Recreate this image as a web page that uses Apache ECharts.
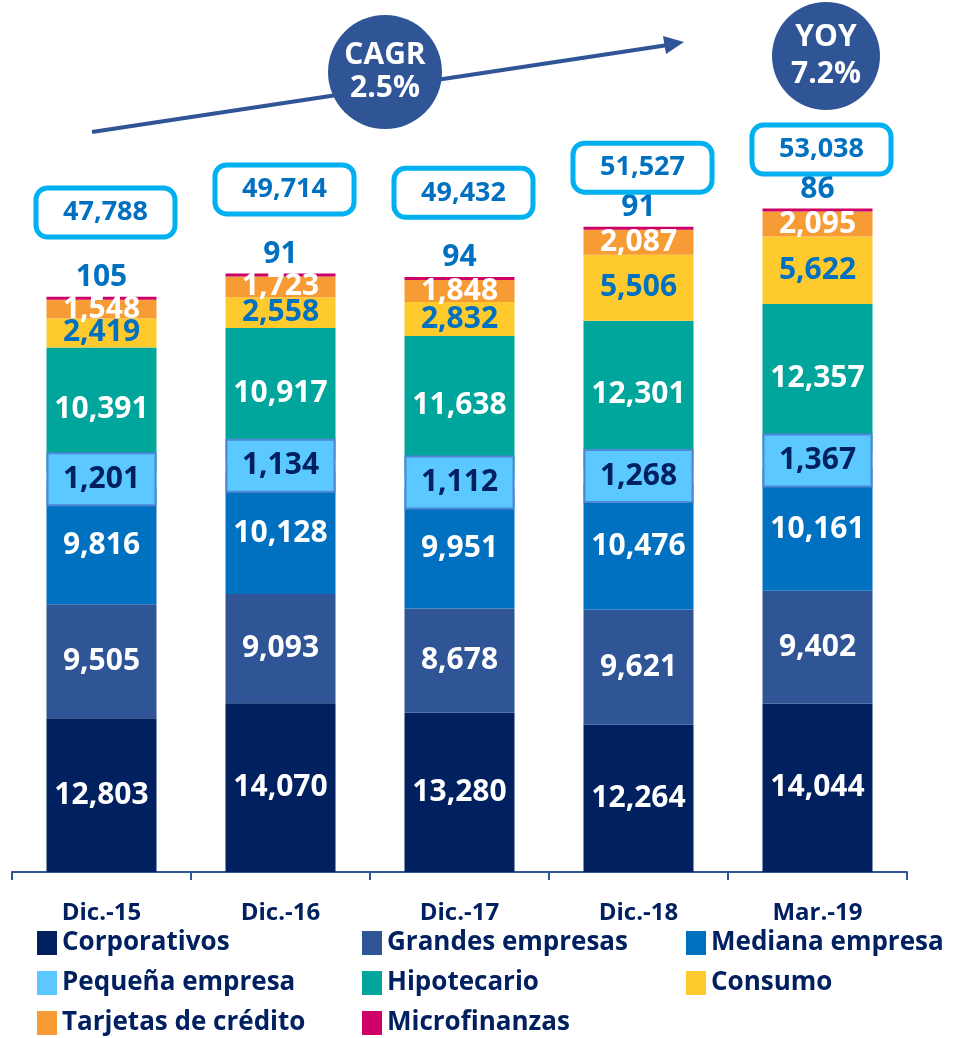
<!DOCTYPE html>
<html>
<head>
<meta charset="utf-8">
<title>Colocaciones por segmento</title>
<script src="https://cdn.jsdelivr.net/npm/echarts@6/dist/echarts.min.js"></script>
<style>
  html, body { margin: 0; padding: 0; background: #fff; }
  #chart { width: 963px; height: 1038px; }
</style>
</head>
<body>
<div id="chart"></div>
<script>
const periods = ['Dic.-15', 'Dic.-16', 'Dic.-17', 'Dic.-18', 'Mar.-19'];

const corporativos = [12803, 14070, 13280, 12264, 14044];
const grandesEmpresas = [9505, 9093, 8678, 9621, 9402];
const medianaEmpresa = [9816, 10128, 9951, 10476, 10161];
const pequenaEmpresa = [1201, 1134, 1112, 1268, 1367];
const hipotecario = [10391, 10917, 11638, 12301, 12357];
const consumo = [2419, 2558, 2832, 5506, 5622];
const tarjetas = [1548, 1723, 1848, 2087, 2095];
const microfinanzas = [105, 91, 94, 91, 86];
const totals = [47788, 49714, 49432, 51527, 53038];

const NAVY = '#002060';
const BLUE = '#0070C0';
const FONT = 'Open Sans';

const fmt = p => Number(p.value).toLocaleString('en-US');

function seg(name, data, color, labelColor) {
    return {
        name: name,
        type: 'bar',
        stack: 'total',
        data: data,
        barWidth: 110,
        itemStyle: { color: color },
        label: {
            show: true,
            position: 'inside',
            formatter: fmt,
            color: labelColor,
            fontFamily: FONT,
            fontWeight: 'bold',
            fontSize: 30
        }
    };
}

const series = [
    seg('Corporativos', corporativos, NAVY, '#fff'),
    seg('Grandes empresas', grandesEmpresas, '#2F5597', '#fff'),
    seg('Mediana empresa', medianaEmpresa, BLUE, '#fff'),
    seg('Pequeña empresa', pequenaEmpresa, '#5BC8FF', NAVY),
    seg('Hipotecario', hipotecario, '#00A59C', '#fff'),
    seg('Consumo', consumo, '#FFCA2D', BLUE),
    seg('Tarjetas de crédito', tarjetas, '#F79C34', '#fff'),
    seg('Microfinanzas', microfinanzas, '#CC0066', BLUE)
];

// boxed label for small business segment
Object.assign(series[3].label, {
    backgroundColor: '#5BC8FF',
    borderColor: '#4F86D6',
    borderWidth: 2,
    width: 106,
    height: 50,
    lineHeight: 50,
    align: 'center',
    padding: 0
});
// microfinance values sit above the bar
Object.assign(series[7].label, { position: 'top', distance: 4 });
series[7].barMinHeight = 3;

// totals in rounded boxes
series.push({
    name: 'Total',
    type: 'scatter',
    data: totals,
    symbolSize: 0,
    silent: true,
    itemStyle: { opacity: 1 },
    label: {
        show: true,
        position: 'inside',
        offset: [4, -86],
        formatter: fmt,
        color: BLUE,
        opacity: 1,
        fontFamily: FONT,
        fontWeight: 'bold',
        fontSize: 27,
        backgroundColor: '#fff',
        borderColor: '#00B0F0',
        borderWidth: 5,
        borderRadius: 9,
        width: 134,
        height: 44,
        lineHeight: 44,
        align: 'center',
        padding: 0
    }
});

const legendBase = {
    orient: 'vertical',
    top: 930,
    height: 120,
    padding: 0,
    icon: 'rect',
    itemWidth: 20,
    itemHeight: 24,
    itemGap: 14,
    selectedMode: false,
    textStyle: {
        color: NAVY,
        fontFamily: FONT,
        fontWeight: 'bold',
        fontSize: 26,
        lineHeight: 26
    }
};

const chart = echarts.init(document.getElementById('chart'));
chart.setOption({
    animation: false,
    grid: { left: 12, right: 56, top: 152, bottom: 166 },
    xAxis: {
        type: 'category',
        data: periods,
        axisLine: { lineStyle: { color: '#2F5597', width: 2 } },
        axisTick: { show: true, length: 8, interval: 0, lineStyle: { color: '#2F5597', width: 2 } },
        axisLabel: {
            margin: 29,
            color: NAVY,
            fontFamily: FONT,
            fontWeight: 'bold',
            fontSize: 24
        }
    },
    yAxis: {
        type: 'value',
        min: 0,
        max: 60000,
        show: false,
        splitLine: { show: false }
    },
    legend: [
        Object.assign({}, legendBase, { left: 37, data: ['Corporativos', 'Pequeña empresa', 'Tarjetas de crédito'] }),
        Object.assign({}, legendBase, { left: 362, data: ['Grandes empresas', 'Hipotecario', 'Microfinanzas'] }),
        Object.assign({}, legendBase, { left: 686, data: ['Mediana empresa', 'Consumo'] })
    ],
    series: series,
    graphic: [
        {
            type: 'line',
            shape: { x1: 92, y1: 132, x2: 668, y2: 45 },
            style: { stroke: '#2F5597', lineWidth: 4 }
        },
        {
            type: 'polygon',
            shape: { points: [[684, 42], [666, 54], [663, 36]] },
            style: { fill: '#2F5597' }
        },
        {
            type: 'circle',
            shape: { cx: 385, cy: 72, r: 57 },
            style: { fill: '#2F5597' }
        },
        {
            type: 'text',
            x: 385, y: 72,
            style: {
                text: 'CAGR\n2.5%',
                fill: '#fff',
                align: 'center',
                verticalAlign: 'middle',
                font: 'bold 30px "Open Sans"',
                lineHeight: 33
            }
        },
        {
            type: 'circle',
            shape: { cx: 826, cy: 56, r: 54 },
            style: { fill: '#2F5597' }
        },
        {
            type: 'text',
            x: 826, y: 56,
            style: {
                text: 'YOY\n7.2%',
                fill: '#fff',
                align: 'center',
                verticalAlign: 'middle',
                font: 'bold 30px "Open Sans"',
                lineHeight: 37
            }
        }
    ]
});
</script>
</body>
</html>
